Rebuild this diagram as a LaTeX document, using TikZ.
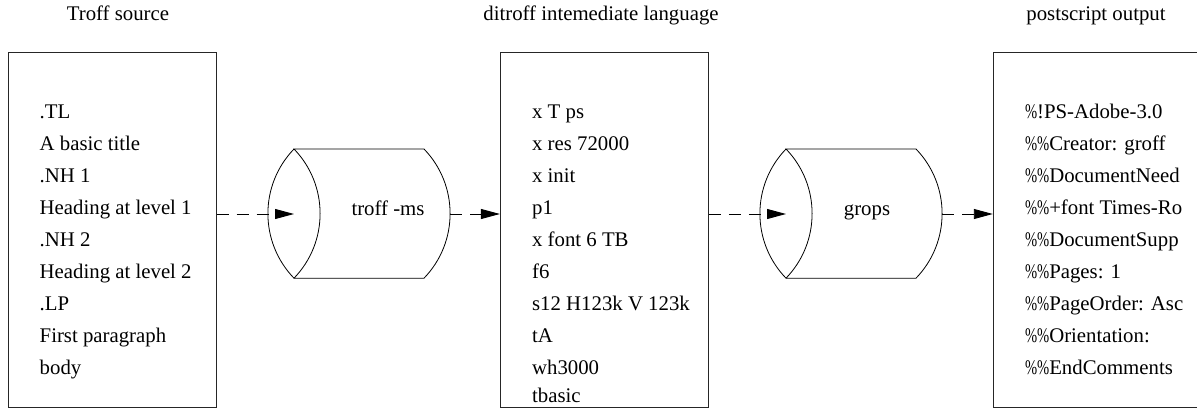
\documentclass[tikz,border=0pt]{standalone}
\usepackage{fontspec}
\setmainfont{Liberation Serif}
\usetikzlibrary{arrows.meta,positioning,calc}

% narrow percent sign, as in the listing font
\newcommand\pc{\scalebox{0.7}[1]{\%}}

\begin{document}
\begin{tikzpicture}[x=1pt,y=1pt,
  box/.style={draw=black!85,line width=1pt,minimum width=208pt,minimum height=355pt,inner sep=0pt},
  code/.style={anchor=base west,inner sep=0pt,font=\fontsize{20.8}{31.9}\selectfont},
  title/.style={anchor=base,inner sep=0pt,font=\fontsize{20.8}{31.9}\selectfont},
  flow/.style={dash pattern=on 12pt off 8pt,line width=0.9pt,-{Triangle[length=19pt,width=10pt]}}]
  \clip (0,0) rectangle (1197,408);

  % the three listings
  \node[box] (src) at (112,177.8) {};
  \node[box] (ds) at (604.4,177.8) {};
  \node[box] (ps) at (1097.3,177.8) {};
  \node[title] (src-t) at (118,387) {Troff source};
  \node[title] (ds-t) at (601,387) {ditroff intemediate language};
  \node[title] (ps-t) at (1096,387) {postscript output};

  \foreach \t [count=\i] in {.TL,A basic title,.NH 1,Heading at level 1,.NH 2,
      Heading at level 2,.LP,First paragraph,body}
    \node[code] (src-\i) at ([shift={(32,{-66.6-31.9*(\i-1)})}]src.north west) {\t};
  \foreach \t [count=\i] in {x T ps,x res 72000,x init,p1,x font 6 TB,f6,
      s12 H123k V 123k,tA,wh3000}
    \node[code] (ds-\i) at ([shift={(32,{-66.6-31.9*(\i-1)})}]ds.north west) {\t};
  \node[code] (ds-10) at ([yshift=-28.5]ds-9.base west) {tbasic};
  \foreach \t [count=\i] in {\pc!PS-Adobe-3.0,\pc\pc Creator: groff,\pc\pc DocumentNeed,
      \pc\pc+font Times-Ro,\pc\pc DocumentSupp,\pc\pc Pages: 1,\pc\pc PageOrder: Asc,
      \pc\pc Orientation:,\pc\pc EndComments}
    \node[code] (ps-\i) at ([shift={(32,{-66.6-31.9*(\i-1)})}]ps.north west) {\t};

  % the two filters, drawn as drums lying on their side
  \foreach \x/\n in {294/ms,786/gr}{
    \draw[line width=0.8pt] (\x,259) arc[start angle=136,end angle=224,radius=93]
      arc[start angle=-44,end angle=44,radius=93] -- ++(130,0)
      arc[start angle=44,end angle=-44,radius=93] -- ++(-130,0);
    \coordinate (\n-in) at (\x,194);
    \coordinate (\n-out) at (\x+156,194);
  }
  \node[title] (ms) at (388,193) {troff -ms};
  \node[title] (gr) at (867,193) {grops};

  \draw[flow] (src.east |- ms-in) -- (ms-in);
  \draw[flow] (ms-out) -- (ds.west |- ms-out);
  \draw[flow] (ds.east |- gr-in) -- (gr-in);
  \draw[flow] (gr-out) -- (ps.west |- gr-out);
\end{tikzpicture}
\end{document}
